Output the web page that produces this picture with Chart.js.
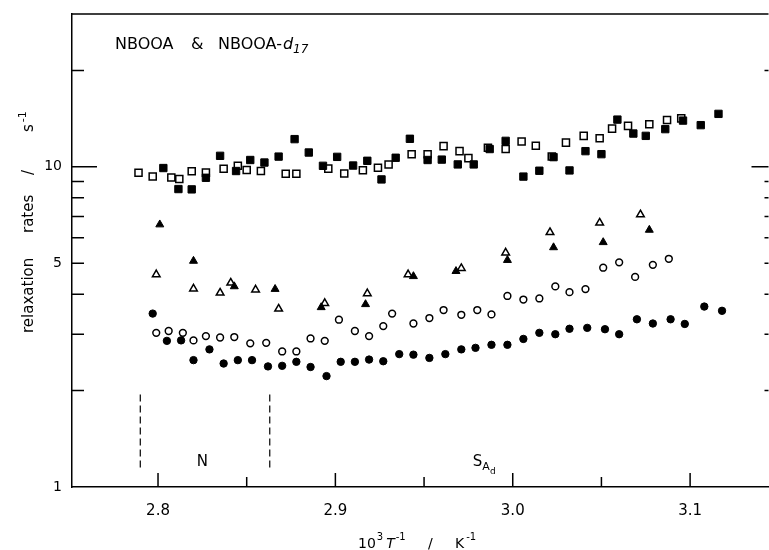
<!DOCTYPE html>
<html>
<head>
<meta charset="utf-8">
<title>Relaxation rates</title>
<script src="https://cdn.jsdelivr.net/npm/chart.js@4"></script>
<style>
  html, body { margin: 0; padding: 0; background: #fff; overflow: hidden; }
  #wrap { width: 769px; height: 550px; overflow: hidden; }
</style>
</head>
<body>
<div id="wrap"><canvas id="rates" width="775" height="550"></canvas></div>
<script>
// relaxation rates vs 10^3/T, log scale
const sqFilledX = [2.803, 2.8115, 2.819, 2.827, 2.835, 2.844, 2.852, 2.860, 2.868, 2.877, 2.885, 2.893, 2.901, 2.910, 2.918, 2.926, 2.934, 2.942, 2.952, 2.960, 2.969, 2.978, 2.987, 2.996, 3.006, 3.015, 3.023, 3.032, 3.041, 3.050, 3.059, 3.068, 3.075, 3.086, 3.096, 3.106, 3.116];
const sqFilledY = [9.91, 8.52, 8.50, 9.24, 10.82, 9.70, 10.50, 10.31, 10.76, 12.20, 11.08, 10.07, 10.74, 10.09, 10.44, 9.13, 10.67, 12.23, 10.50, 10.53, 10.17, 10.17, 11.36, 12.05, 9.32, 9.72, 10.72, 9.74, 11.19, 10.95, 14.04, 12.70, 12.49, 13.11, 13.94, 13.49, 14.63];

const sqOpenX = [2.789, 2.797, 2.8075, 2.812, 2.819, 2.827, 2.837, 2.845, 2.850, 2.858, 2.872, 2.878, 2.896, 2.905, 2.9155, 2.924, 2.930, 2.943, 2.952, 2.961, 2.970, 2.975, 2.986, 2.996, 3.005, 3.013, 3.022, 3.030, 3.040, 3.049, 3.056, 3.065, 3.077, 3.087, 3.095];
const sqOpenY = [9.58, 9.32, 9.26, 9.16, 9.68, 9.59, 9.86, 10.07, 9.77, 9.70, 9.51, 9.51, 9.87, 9.53, 9.75, 9.93, 10.16, 10.95, 10.95, 11.60, 11.19, 10.64, 11.46, 11.36, 11.99, 11.63, 10.77, 11.90, 12.49, 12.27, 13.16, 13.42, 13.58, 13.99, 14.16];

const triFilledX = [2.801, 2.820, 2.843, 2.866, 2.892, 2.917, 2.944, 2.968, 2.997, 3.023, 3.051, 3.077];
const triFilledY = [6.60, 5.08, 4.23, 4.15, 3.64, 3.72, 4.55, 4.72, 5.11, 5.60, 5.81, 6.35];

const triOpenX = [2.799, 2.820, 2.835, 2.841, 2.855, 2.868, 2.894, 2.918, 2.941, 2.971, 2.996, 3.021, 3.049, 3.072];
const triOpenY = [4.61, 4.16, 4.04, 4.34, 4.13, 3.60, 3.75, 4.02, 4.61, 4.82, 5.39, 6.24, 6.68, 7.09];

const circOpenX = [2.799, 2.806, 2.814, 2.820, 2.827, 2.835, 2.843, 2.852, 2.861, 2.870, 2.878, 2.886, 2.894, 2.902, 2.911, 2.919, 2.927, 2.932, 2.944, 2.953, 2.961, 2.971, 2.980, 2.988, 2.997, 3.006, 3.015, 3.024, 3.032, 3.041, 3.051, 3.060, 3.069, 3.079, 3.088];
const circOpenY = [3.03, 3.07, 3.03, 2.87, 2.96, 2.93, 2.94, 2.81, 2.82, 2.65, 2.65, 2.91, 2.86, 3.33, 3.07, 2.96, 3.18, 3.48, 3.24, 3.37, 3.57, 3.45, 3.57, 3.46, 3.95, 3.85, 3.88, 4.23, 4.06, 4.15, 4.84, 5.03, 4.53, 4.94, 5.16];

const circFilledX = [2.797, 2.805, 2.813, 2.820, 2.829, 2.837, 2.845, 2.853, 2.862, 2.870, 2.878, 2.886, 2.895, 2.903, 2.911, 2.919, 2.927, 2.936, 2.944, 2.953, 2.962, 2.971, 2.979, 2.988, 2.997, 3.006, 3.015, 3.024, 3.032, 3.042, 3.052, 3.060, 3.070, 3.079, 3.089, 3.097, 3.108, 3.118];
const circFilledY = [3.48, 2.86, 2.87, 2.49, 2.69, 2.43, 2.49, 2.49, 2.38, 2.39, 2.46, 2.37, 2.22, 2.46, 2.46, 2.50, 2.47, 2.60, 2.59, 2.53, 2.60, 2.69, 2.72, 2.78, 2.78, 2.90, 3.03, 3.00, 3.12, 3.14, 3.11, 3.00, 3.34, 3.24, 3.34, 3.23, 3.66, 3.55];

// phase boundaries (N / S_Ad) and the height of the dashed markers
const phaseX = [2.79, 2.863];
const phaseY = [1.15, 2.0];

// axis ticks
const xTicks = [2.8, 2.85, 2.9, 2.95, 3.0, 3.05, 3.1];
const xLabels = [2.8, 2.9, 3.0, 3.1];
const yTicks = [1, 2, 3, 4, 5, 6, 7, 8, 9, 10, 20, 30];
const yLabels = [1, 5, 10];

const FONT = 'DejaVu Sans';

function pts(xs, ys) {
  return xs.map((x, i) => ({ x: x, y: ys[i] }));
}

function marker(data, style, filled, radius) {
  return {
    data: data,
    pointStyle: style,
    pointRadius: radius,
    pointHoverRadius: radius,
    pointBackgroundColor: filled ? '#000' : '#fff',
    pointBorderColor: '#000',
    pointBorderWidth: filled ? 1 : 1.5,
    showLine: false
  };
}

function dashed(x) {
  return {
    data: phaseY.map(y => ({ x: x, y: y })),
    showLine: true,
    borderColor: '#000',
    borderWidth: 1.2,
    borderDash: [7, 4],
    pointRadius: 0
  };
}

function text(ctx, str, x, y, size, opts) {
  opts = opts || {};
  ctx.font = (opts.italic ? 'italic ' : '') + size + 'px "' + FONT + '"';
  ctx.textAlign = opts.align || 'left';
  ctx.fillText(str, x, y);
  return x + ctx.measureText(str).width;
}

// frame, inward ticks and the text annotations
const decor = {
  id: 'decor',
  afterDraw(chart) {
    const ctx = chart.ctx;
    const { left, right, top, bottom } = chart.chartArea;
    const xs = chart.scales.x, ys = chart.scales.y;
    ctx.save();
    ctx.strokeStyle = '#000';
    ctx.fillStyle = '#000';
    ctx.lineWidth = 1.5;
    ctx.beginPath();
    ctx.moveTo(left, top);
    ctx.lineTo(right, top);
    yTicks.forEach(v => {
      if (v === 1 || v === 30) return;
      const py = ys.getPixelForValue(v);
      const len = v === 10 ? 25 : 12;
      ctx.moveTo(left, py);
      ctx.lineTo(left + len, py);
      // the right-hand axis sits just past the edge; only the tick tips show
      ctx.moveTo(right, py);
      ctx.lineTo(right - len + 8, py);
    });
    xTicks.forEach(v => {
      const px = xs.getPixelForValue(v);
      const major = Math.round(v * 100) % 10 === 0;
      ctx.moveTo(px, bottom);
      ctx.lineTo(px, bottom - (major ? 14 : 10));
    });
    ctx.stroke();

    ctx.textBaseline = 'alphabetic';
    // sample label
    text(ctx, 'NBOOA', 115, 49, 16);
    text(ctx, '&', 191, 49, 16);
    let cx = text(ctx, 'NBOOA-', 218, 49, 16);
    cx = text(ctx, 'd', cx + 1, 49, 16, { italic: true });
    text(ctx, '17', cx, 53, 12, { italic: true });

    // phase labels
    text(ctx, 'N', xs.getPixelForValue(2.825), 466, 15, { align: 'center' });
    cx = text(ctx, 'S', xs.getPixelForValue(2.9775), 466, 15);
    cx = text(ctx, 'A', cx, 470, 11);
    text(ctx, 'd', cx, 474, 9);

    // x title
    cx = text(ctx, '10', 358, 548, 14);
    cx = text(ctx, '3', cx + 1, 540, 10);
    cx = text(ctx, 'T', cx + 3, 548, 14, { italic: true });
    text(ctx, '-1', cx + 1, 540, 10);
    text(ctx, '/', 428, 548, 14);
    cx = text(ctx, 'K', 455, 548, 14);
    text(ctx, '-1', cx + 2, 540, 10);

    // y title
    ctx.translate(33, 333);
    ctx.rotate(-Math.PI / 2);
    text(ctx, 'relaxation', 0, 0, 15);
    text(ctx, 'rates', 100, 0, 15);
    text(ctx, '/', 158, 0, 15);
    cx = text(ctx, 's', 201, 0, 15);
    text(ctx, '-1', cx + 2, -7, 11);
    ctx.restore();
  }
};

new Chart(document.getElementById('rates'), {
  type: 'scatter',
  data: {
    datasets: [
      marker(pts(sqFilledX, sqFilledY), 'rect', true, 5.2),
      marker(pts(triFilledX, triFilledY), 'triangle', true, 4.6),
      marker(pts(circFilledX, circFilledY), 'circle', true, 3.7),
      marker(pts(sqOpenX, sqOpenY), 'rect', false, 5.0),
      marker(pts(triOpenX, triOpenY), 'triangle', false, 4.4),
      marker(pts(circOpenX, circOpenY), 'circle', false, 3.4),
      dashed(phaseX[0]),
      dashed(phaseX[1])
    ]
  },
  options: {
    responsive: false,
    animation: false,
    events: [],
    layout: { padding: { top: 14, right: 0, left: 0, bottom: 0 } },
    plugins: { legend: { display: false }, tooltip: { enabled: false } },
    scales: {
      x: {
        type: 'linear',
        min: 2.7515,
        max: 3.1442,
        grid: { display: false, drawTicks: false },
        border: { display: true, color: '#000', width: 1.5 },
        afterBuildTicks: s => { s.ticks = xTicks.map(v => ({ value: v })); },
        afterFit: s => { s.height = 63; s.paddingLeft = 0; s.paddingRight = 0; },
        ticks: {
          autoSkip: false,
          maxRotation: 0,
          padding: 15,
          color: '#000',
          font: { family: FONT, size: 15 },
          callback: v => xLabels.some(l => Math.abs(l - v) < 1e-6) ? v.toFixed(1) : ''
        }
      },
      y: {
        type: 'logarithmic',
        min: 1,
        max: 30,
        grid: { display: false, drawTicks: false },
        border: { display: true, color: '#000', width: 1.5 },
        afterBuildTicks: s => { s.ticks = yTicks.map(v => ({ value: v })); },
        afterFit: s => { s.width = 72; s.paddingTop = 0; s.paddingBottom = 0; },
        ticks: {
          autoSkip: false,
          padding: 10,
          color: '#000',
          font: { family: FONT, size: 14 },
          callback: v => yLabels.includes(v) ? String(v) : ''
        }
      }
    }
  },
  plugins: [decor]
});
</script>
</body>
</html>
